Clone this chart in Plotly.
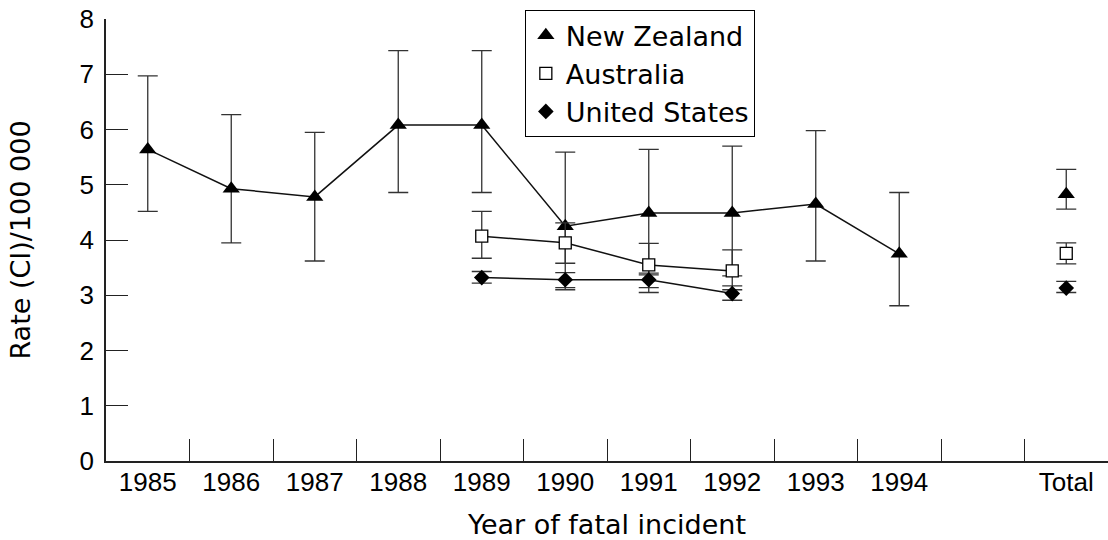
import plotly.graph_objects as go

categories = ["1985", "1986", "1987", "1988", "1989", "1990", "1991", "1992", "1993", "1994", " ", "Total"]

nz_x = ["1985", "1986", "1987", "1988", "1989", "1990", "1991", "1992", "1993", "1994", " ", "Total"]
nz_y = [5.64, 4.93, 4.78, 6.08, 6.08, 4.25, 4.49, 4.49, 4.65, 3.75, None, 4.83]
nz_hi = [6.97, 6.27, 5.95, 7.43, 7.43, 5.59, 5.64, 5.70, 5.98, 4.86, None, 5.28]
nz_lo = [4.52, 3.95, 3.62, 4.86, 4.86, 3.10, 3.40, 3.35, 3.62, 2.81, None, 4.56]

au_x = ["1989", "1990", "1991", "1992", " ", "Total"]
au_y = [4.07, 3.95, 3.55, 3.44, None, 3.76]
au_hi = [4.52, 4.31, 3.94, 3.82, None, 3.95]
au_lo = [3.67, 3.58, 3.05, 3.10, None, 3.57]

us_x = ["1989", "1990", "1991", "1992", " ", "Total"]
us_y = [3.32, 3.28, 3.28, 3.03, None, 3.13]
us_hi = [3.43, 3.41, 3.37, 3.17, None, 3.25]
us_lo = [3.22, 3.14, 3.14, 2.91, None, 3.05]

y_ticks = [0, 1, 2, 3, 4, 5, 6, 7, 8]


def plus(v, h):
    return [None if a is None else round(b - a, 4) for a, b in zip(v, h)]


def minus(v, l):
    return [None if a is None else round(a - b, 4) for a, b in zip(v, l)]


TICKFONT = "Liberation Sans, Arial, Helvetica, sans-serif"
TEXTFONT = "DejaVu Sans, Verdana, sans-serif"
LC = "#111111"


def err(v, h, l):
    return dict(type="data", symmetric=False, array=plus(v, h), arrayminus=minus(v, l),
                color="#333333", thickness=1.3, width=10)


series = [
    ("New Zealand", nz_x, nz_y, nz_hi, nz_lo,
     dict(symbol="triangle-up", size=15, color="black")),
    ("Australia", au_x, au_y, au_hi, au_lo,
     dict(symbol="square", size=12, color="white", line=dict(color="black", width=1.3))),
    ("United States", us_x, us_y, us_hi, us_lo,
     dict(symbol="diamond", size=12, color="black")),
]

fig = go.Figure()
for name, xs, ys, hi, lo, mk in series:
    fig.add_trace(go.Scatter(
        x=xs, y=ys, mode="lines", connectgaps=False, showlegend=False, hoverinfo="skip",
        line=dict(color=LC, width=1.5)))
    fig.add_trace(go.Scatter(
        x=xs, y=ys, name=name, mode="markers", marker=mk, error_y=err(ys, hi, lo)))

fig.update_layout(
    width=1108, height=540,
    margin=dict(l=106, r=0, t=19, b=79, autoexpand=False),
    paper_bgcolor="white", plot_bgcolor="white",
    font=dict(family=TICKFONT, color="black", size=26),
    showlegend=True,
    legend=dict(x=0.418, y=1.02, xanchor="left", yanchor="top",
                bordercolor="black", borderwidth=1, bgcolor="white",
                font=dict(size=27, family=TEXTFONT), tracegroupgap=0),
    xaxis=dict(type="category", categoryorder="array", categoryarray=categories,
               range=[-0.5, len(categories) - 0.5], automargin=False,
               tickson="boundaries", ticks="inside", ticklen=22, tickwidth=1.3, tickcolor="#222",
               showline=True, linecolor="#222", linewidth=1.5, showgrid=False, zeroline=False,
               tickfont=dict(size=26), fixedrange=True, ticklabelstandoff=-3,
               ticklabeloverflow="allow",
               title=dict(text="Year of fatal incident", font=dict(size=27, family=TEXTFONT),
                          standoff=19)),
    yaxis=dict(range=[0, 8.001], tickvals=y_ticks, ticks="inside", ticklen=22, tickwidth=1.3,
               tickcolor="#222", showline=True, linecolor="#222", linewidth=1.5, automargin=False,
               showgrid=False, zeroline=False, tickfont=dict(size=26),
               ticklabelstandoff=5, ticklabeloverflow="allow",
               title=dict(text="Rate (CI)/100 000", font=dict(size=27, family=TEXTFONT),
                          standoff=41)),
)

# remove the browser's default 8px body margin so the figure fills the window exactly
fig.write_html("out.html",
               config={"displayModeBar": False},
               post_script="document.body.style.margin='0';document.body.style.overflow='hidden';")
